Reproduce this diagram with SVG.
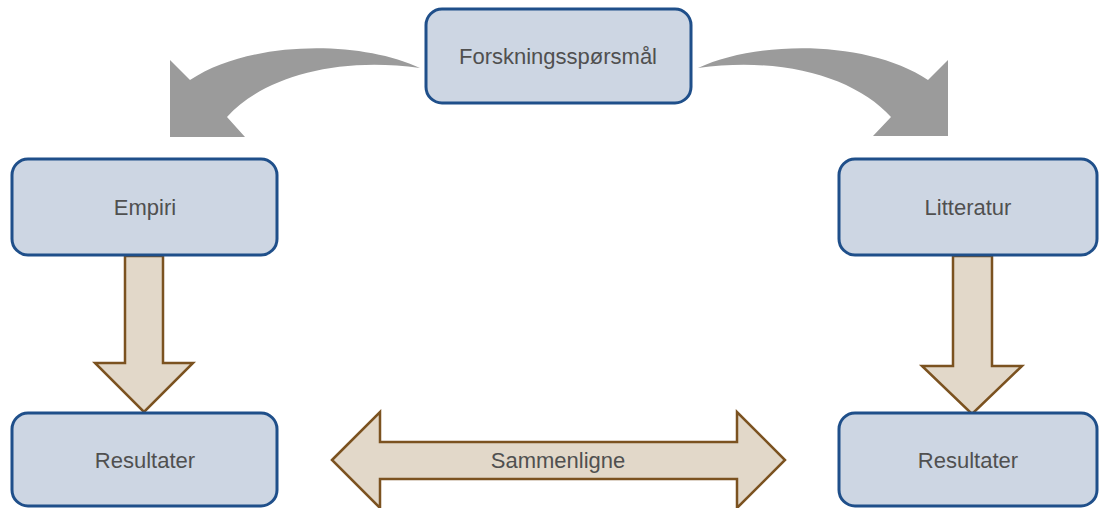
<svg xmlns="http://www.w3.org/2000/svg" width="1099" height="508" viewBox="0 0 1099 508">
<style>
.box{fill:#cdd6e3;stroke:#1f4f8a;stroke-width:3}
.lbl{font-family:"Liberation Sans",Arial,sans-serif;font-size:22px;fill:#505050;text-anchor:middle}
.curve{fill:#9b9b9b;stroke:none}
.barrow{fill:#e2d8c9;stroke:#7b5220;stroke-width:2.5;stroke-linejoin:miter}
</style>
<rect width="1099" height="508" fill="#ffffff"/>
<g id="connectors">
<path class="curve" d="M420,68 C360,40 250,40 190,80 L170,60 L170,137 L245,137 L227,117 C262,78 335,56 420,68 Z"/>
<path class="curve" d="M698,68 C758,40 868,40 928,80 L948,60 L948,136 L873,136 L891,117 C856,78 783,56 698,68 Z"/>
<path class="barrow" d="M125,256 L163,256 L163,363 L193,363 L144,412 L95,363 L125,363 Z"/>
<path class="barrow" d="M953,256 L992,256 L992,366 L1022,366 L972,414 L922,366 L953,366 Z"/>
<path class="barrow" d="M332,460 L380,412 L380,442 L737,442 L737,412 L785,460 L737,508 L737,479 L380,479 L380,508 Z"/>
<text class="lbl" x="558" y="468">Sammenligne</text>
</g>
<g id="n-forsk">
<rect class="box" x="426" y="9" width="265" height="94" rx="16"/>
<text class="lbl" x="558" y="64">Forskningsspørsmål</text>
</g>
<g id="n-empiri">
<rect class="box" x="12" y="159" width="265" height="96" rx="16"/>
<text class="lbl" x="145" y="215">Empiri</text>
</g>
<g id="n-litt">
<rect class="box" x="839" y="159" width="258" height="96" rx="16"/>
<text class="lbl" x="968" y="215">Litteratur</text>
</g>
<g id="n-res1">
<rect class="box" x="12" y="413" width="265" height="93" rx="16"/>
<text class="lbl" x="145" y="468">Resultater</text>
</g>
<g id="n-res2">
<rect class="box" x="839" y="413" width="258" height="93" rx="16"/>
<text class="lbl" x="968" y="468">Resultater</text>
</g>
</svg>
